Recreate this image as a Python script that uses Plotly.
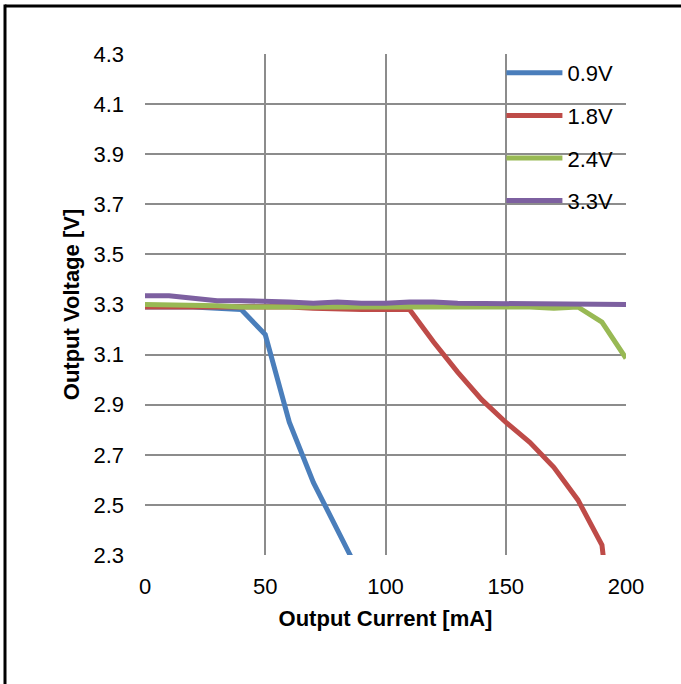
import plotly.graph_objects as go

current = [0, 10, 20, 30, 40, 50, 60, 70, 80, 90, 100, 110, 120, 130, 140, 150, 160, 170, 180, 190, 200]

v09_x = [0, 10, 20, 30, 40, 50, 60, 70, 80, 90]
v09 = [3.29, 3.29, 3.29, 3.285, 3.28, 3.18, 2.83, 2.59, 2.40, 2.21]
v18 = [3.29, 3.29, 3.29, 3.29, 3.29, 3.29, 3.29, 3.285, 3.28, 3.28, 3.28, 3.28,
       3.15, 3.03, 2.92, 2.83, 2.75, 2.65, 2.52, 2.34, 1.50]
v24 = [3.30, 3.30, 3.30, 3.295, 3.29, 3.29, 3.29, 3.29, 3.29, 3.29, 3.29, 3.29,
       3.29, 3.29, 3.29, 3.29, 3.29, 3.285, 3.29, 3.23, 3.085]
v33 = [3.335, 3.335, 3.325, 3.315, 3.315, 3.315, 3.31, 3.305, 3.31, 3.305, 3.305,
       3.31, 3.31, 3.305, 3.305, 3.305, 3.30, 3.305, 3.305, 3.30, 3.30]

names = ["0.9V", "1.8V", "2.4V", "3.3V"]
colors = ["#4A7EBB", "#BE4B48", "#98B954", "#7D60A0"]
xs = [v09_x, current, current, current]
ys = [v09, v18, v24, v33]

x_ticks = [0, 50, 100, 150, 200]
y_ticks = [2.3, 2.5, 2.7, 2.9, 3.1, 3.3, 3.5, 3.7, 3.9, 4.1, 4.3]

FONT = "Liberation Sans, Arial, sans-serif"

fig = go.Figure()
for n, c, x, y in zip(names, colors, xs, ys):
    fig.add_trace(go.Scatter(x=x, y=y, name=n, mode="lines", legendgroup=n,
                             line=dict(color=c, width=5)))

grid = "#8C8C8C"
fig.update_layout(
    width=681, height=684,
    margin=dict(l=145, r=55, t=54, b=129),
    paper_bgcolor="white", plot_bgcolor="white",
    font=dict(family=FONT, size=22, color="black"),
    showlegend=True,
    legend=dict(x=0.741, y=1.004, xanchor="left", yanchor="top",
                bgcolor="rgba(0,0,0,0)", font=dict(size=22),
                traceorder="grouped", tracegroupgap=11, itemwidth=56),
    xaxis=dict(range=[0, 200], tickvals=x_ticks, showgrid=True, gridcolor=grid,
               gridwidth=2, zeroline=False, showline=False, ticks="",
               ticklabelstandoff=16,
               title=dict(text="<b>Output Current [mA]</b>", font=dict(size=22),
                          standoff=12)),
    yaxis=dict(range=[2.3, 4.3], tickvals=y_ticks, tickformat=".1f", showgrid=True,
               gridcolor=grid, gridwidth=2, zeroline=False, showline=False, ticks="",
               ticklabelstandoff=20,
               title=dict(text="<b>Output Voltage [V]</b>", font=dict(size=22),
                          standoff=7)),
    shapes=[
        dict(type="line", xref="paper", yref="paper", x0=(5 - 145) / 481, x1=1.2,
             y0=1 + (54 - 6) / 501, y1=1 + (54 - 6) / 501,
             line=dict(color="black", width=3)),
        dict(type="line", xref="paper", yref="paper", x0=(5 - 145) / 481, x1=(5 - 145) / 481,
             y0=1 + (54 - 4.5) / 501, y1=-0.3,
             line=dict(color="black", width=3)),
    ],
)

fig.write_html("out.html", config={"displayModeBar": False},
               post_script="document.body.style.margin='0';")
